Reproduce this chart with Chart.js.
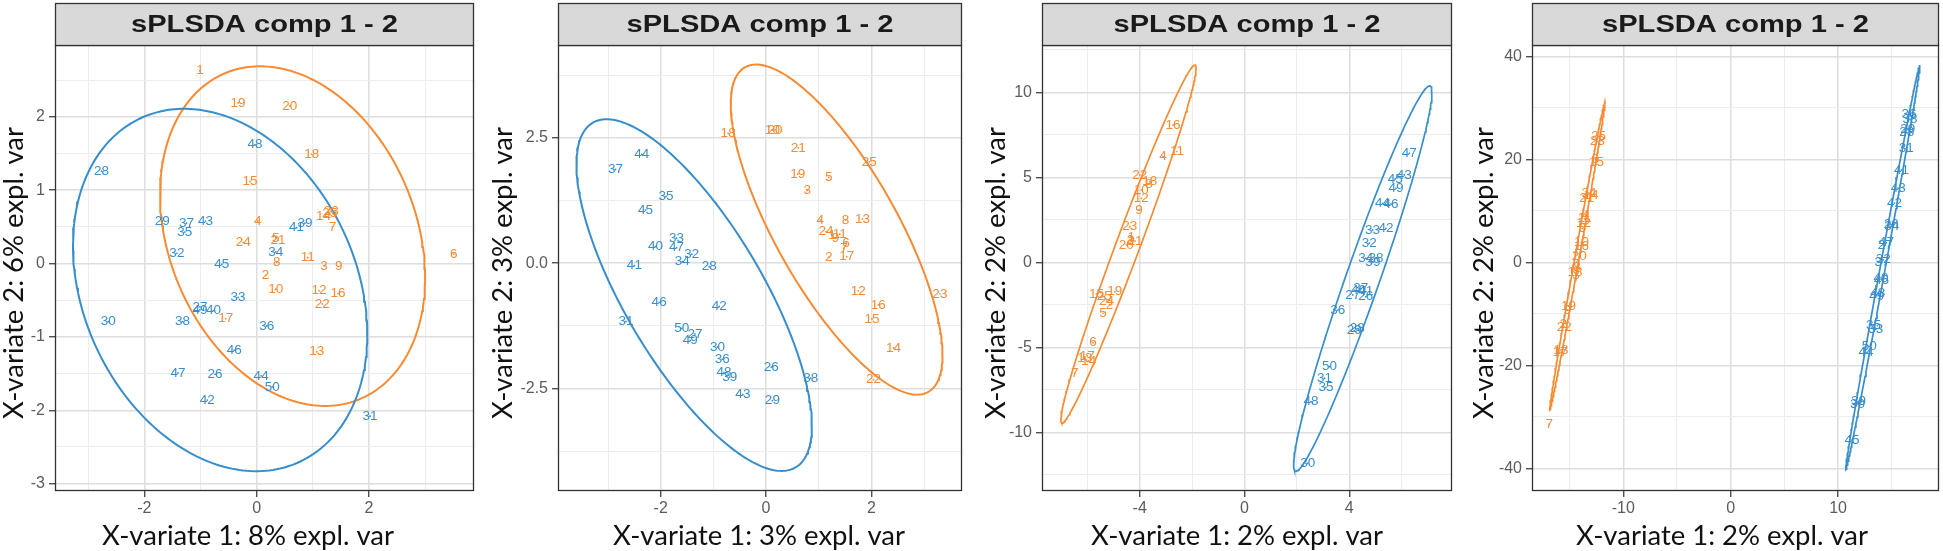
<!DOCTYPE html>
<html><head><meta charset="utf-8">
<script src="https://cdn.jsdelivr.net/npm/chart.js@4.4.1/dist/chart.umd.min.js"></script>
<style>
html,body{margin:0;padding:0;background:#fff;}
body{width:1943px;height:551px;overflow:hidden;position:relative;}
canvas{position:absolute;top:0;}
</style></head><body>
<canvas id="c1" width="478" height="551" style="left:0px"></canvas>
<canvas id="c2" width="488" height="551" style="left:478px"></canvas>
<canvas id="c3" width="490" height="551" style="left:966px"></canvas>
<canvas id="c4" width="487" height="551" style="left:1456px"></canvas>
<script>
// ---- sample names ----
const orangeNames = ['1','2','3','4','5','6','7','8','9','10','11','12','13','14','15','16','17','18','19','20','21','22','23','24','25'];
const blueNames = ['26','27','28','29','30','31','32','33','34','35','36','37','38','39','40','41','42','43','44','45','46','47','48','49','50'];

// ---- panel 1 ----
const p1OrangeX = [-1.01,0.16,1.20,0.02,0.34,3.51,1.35,0.36,1.46,0.34,0.91,1.11,1.07,1.19,-0.12,1.45,-0.55,0.98,-0.33,0.59,0.38,1.17,1.33,-0.24,1.30];
const p1OrangeY = [2.63,-0.16,-0.03,0.58,0.35,0.13,0.50,0.02,-0.04,-0.35,0.08,-0.37,-1.20,0.64,1.12,-0.41,-0.75,1.49,2.19,2.15,0.32,-0.55,0.72,0.29,0.69];
const p1BlueX = [-0.74,-1.01,-2.76,-1.68,-2.64,2.02,-1.42,-0.33,0.34,-1.28,0.18,-1.25,-1.32,0.86,-0.77,0.71,-0.88,-0.91,0.08,-0.62,-0.40,-1.40,-0.03,-1.01,0.28];
const p1BlueY = [-1.51,-0.59,1.26,0.58,-0.79,-2.08,0.14,-0.46,0.16,0.43,-0.85,0.55,-0.79,0.55,-0.64,0.49,-1.86,0.58,-1.53,-0.01,-1.18,-1.49,1.62,-0.63,-1.68];
// ellipse: centre x, centre y, x radius, y radius, sin(phase)
const p1BlueEllipse = [-0.65,-0.36,2.62,2.47,-0.245];
const p1OrangeEllipse = [0.64,0.375,2.36,2.315,-0.245];
const p1XRange = [-3.59,3.87], p1YRange = [-3.10,2.98];
const p1XGrid = [-3,-2,-1,0,1,2,3], p1XTicks = [-2,0,2], p1XTickLabels = ['-2','0','2'];
const p1YGrid = [-3,-2.5,-2,-1.5,-1,-0.5,0,0.5,1,1.5,2,2.5], p1YTicks = [-3,-2,-1,0,1,2], p1YTickLabels = ['-3','-2','-1','0','1','2'];

// ---- panel 2 ----
const p2OrangeX = [1.25,1.19,0.78,1.03,1.19,1.52,1.48,1.51,1.32,0.12,1.40,1.75,1.83,2.42,2.01,2.13,1.53,-0.72,0.60,0.17,0.61,2.04,3.30,1.14,1.96];
const p2OrangeY = [0.55,0.12,1.45,0.86,1.71,0.40,0.30,0.86,0.50,2.66,0.58,-0.55,0.88,-1.69,-1.11,-0.83,0.13,2.59,1.78,2.66,2.30,-2.32,-0.61,0.63,2.02];
const p2BlueX = [0.10,-1.35,-1.08,0.12,-0.92,-2.66,-1.41,-1.70,-1.59,-1.90,-0.83,-2.86,0.85,-0.69,-2.10,-2.50,-0.89,-0.44,-2.36,-2.29,-2.03,-1.70,-0.80,-1.44,-1.60];
const p2BlueY = [-2.07,-1.41,-0.07,-2.74,-1.67,-1.16,0.18,0.50,0.03,1.33,-1.91,1.87,-2.29,-2.27,0.33,-0.05,-0.86,-2.62,2.17,1.06,-0.78,0.31,-2.18,-1.54,-1.30];
const p2BlueEllipse = [-1.365,-0.635,2.235,3.505,-0.743];
const p2OrangeEllipse = [1.34,0.67,2.01,3.29,-0.76];
const p2XRange = [-3.95,3.72], p2YRange = [-4.54,4.35];
const p2XGrid = [-3,-2,-1,0,1,2,3], p2XTicks = [-2,0,2], p2XTickLabels = ['-2','0','2'];
const p2YGrid = [-3.75,-2.5,-1.25,0,1.25,2.5,3.75], p2YTicks = [-2.5,0,2.5], p2YTickLabels = ['-2.5','0.0','2.5'];

// ---- panel 3 ----
const p3OrangeX = [-4.32,-5.15,-4.35,-3.11,-5.40,-5.78,-6.48,-3.65,-4.03,-3.94,-2.58,-3.94,-6.10,-5.95,-5.65,-2.73,-6.00,-3.62,-4.95,-4.51,-4.18,-4.00,-4.38,-5.27,-5.35];
const p3OrangeY = [1.45,-2.50,1.30,6.21,-3.00,-4.73,-6.53,4.60,3.08,4.25,6.51,3.76,-5.65,-5.80,-1.86,8.08,-5.50,4.74,-1.73,1.02,1.25,5.14,2.09,-2.30,-2.00];
const p3BlueX = [4.63,4.13,4.30,4.19,2.41,3.05,4.76,4.89,4.63,3.11,3.56,4.44,5.02,4.90,4.35,4.63,5.40,6.10,5.27,5.75,5.59,6.29,2.54,5.78,3.24];
const p3BlueY = [-2.02,-1.92,-3.90,-4.02,-11.82,-6.82,1.12,1.90,0.24,-7.35,-2.81,-1.53,0.24,0.00,-1.65,-1.73,2.00,5.14,3.47,4.90,3.43,6.41,-8.20,4.35,-6.14];
const p3BlueEllipse = [4.515,-0.955,2.64,11.33,0.966];
const p3OrangeEllipse = [-4.43,1.07,2.58,10.53,0.982];
const p3XRange = [-7.73,7.92], p3YRange = [-13.45,12.78];
const p3XGrid = [-6,-4,-2,0,2,4,6], p3XTicks = [-4,0,4], p3XTickLabels = ['-4','0','4'];
const p3YGrid = [-12.5,-10,-7.5,-5,-2.5,0,2.5,5,7.5,10,12.5], p3YTicks = [-10,-5,0,5,10], p3YTickLabels = ['-10','-5','0','5','10'];

// ---- panel 4 ----
const p4OrangeX = [-14.2,-15.6,-14.4,-13.5,-13.8,-12.6,-16.9,-14.3,-15.2,-13.9,-13.6,-13.7,-15.8,-13.0,-12.5,-13.9,-15.9,-14.5,-15.1,-14.1,-13.4,-15.5,-12.4,-13.2,-12.3];
const p4OrangeY = [-0.5,-12.0,-2.6,9.2,6.6,20.0,-31.4,-1.0,-9.3,3.8,8.5,7.5,-17.0,13.0,19.5,3.2,-17.5,-2.0,-8.5,1.1,12.5,-12.6,23.5,13.5,24.5];
const p4BlueX = [14.95,14.4,16.4,16.5,11.8,16.35,14.2,13.5,15.0,13.3,16.6,14.1,16.7,11.9,14.0,15.9,15.25,15.6,12.6,11.3,14.05,14.5,13.7,13.6,12.9];
const p4BlueY = [7.3,3.4,25.2,25.9,-27.5,22.1,0.5,-13.0,7.0,-12.2,28.8,0.0,27.8,-27.0,-3.0,17.9,11.5,14.4,-17.5,-34.5,-3.4,3.8,-6.0,-6.5,-16.3];
const p4BlueEllipse = [14.165,-1.0,3.455,39.3,0.9975];
const p4OrangeEllipse = [-14.275,1.25,2.575,29.95,0.997];
const p4XRange = [-18.5,19.4], p4YRange = [-44.4,42.2];
const p4XGrid = [-15,-10,-5,0,5,10,15], p4XTicks = [-10,0,10], p4XTickLabels = ['-10','0','10'];
const p4YGrid = [-40,-30,-20,-10,0,10,20,30,40], p4YTicks = [-40,-20,0,20,40], p4YTickLabels = ['-40','-20','0','20','40'];

// ---- titles ----
const stripTitle = 'sPLSDA comp 1 - 2';
const xTitles = ['X-variate 1: 8% expl. var','X-variate 1: 3% expl. var','X-variate 1: 2% expl. var','X-variate 1: 2% expl. var'];
const yTitles = ['X-variate 2: 6% expl. var','X-variate 2: 3% expl. var','X-variate 2: 2% expl. var','X-variate 2: 2% expl. var'];

const BLUE = '#388ECC', ORANGE = '#F68B33';

function ellipsePoints(p){
  const [cx,cy,rx,ry,s] = p; const c = Math.sqrt(1-s*s); const out=[];
  for(let k=0;k<=240;k++){ const t=2*Math.PI*k/240; out.push({x:cx+rx*Math.cos(t), y:cy+ry*(Math.sin(t)*c+Math.cos(t)*s)}); }
  return out;
}
function pts(xs,ys){ return xs.map((x,i)=>({x:x,y:ys[i]})); }

const decorPlugin = {
  id:'decor',
  afterDatasetsDraw(chart){
    const ctx=chart.ctx, a=chart.chartArea;
    ctx.save();
    ctx.beginPath(); ctx.rect(a.left,a.top,a.right-a.left,a.bottom-a.top); ctx.clip();
    ctx.font='13.5px "Liberation Sans", Arial, sans-serif'; ctx.textAlign='center'; ctx.textBaseline='middle';
    chart.data.datasets.forEach((ds,i)=>{
      if(!ds.names) return;
      const meta=chart.getDatasetMeta(i);
      ctx.fillStyle=ds.textColor;
      meta.data.forEach((el,j)=>{ ctx.fillText(ds.names[j], el.x, el.y); });
    });
    ctx.restore();
  },
  afterDraw(chart){
    const ctx=chart.ctx, a=chart.chartArea, o=chart.options.plugins.decor;
    ctx.save();
    ctx.setTransform(1,0,0,1,0,0);
    // panel border
    ctx.strokeStyle='#333333'; ctx.lineWidth=1.3;
    ctx.strokeRect(a.left+0.5,a.top+0.5,a.right-a.left-1,a.bottom-a.top-1);
    // strip
    ctx.fillStyle='#D9D9D9'; ctx.fillRect(a.left,3,a.right-a.left,a.top-3);
    ctx.strokeRect(a.left+0.5,3.5,a.right-a.left-1,a.top-3);
    ctx.fillStyle='#1A1A1A';
    ctx.textBaseline='middle'; ctx.textAlign='left';
    ctx.font='bold 24px "Liberation Sans", Arial, sans-serif';
    const w=ctx.measureText(stripTitle).width; const sx=267/w;
    ctx.setTransform(sx,0,0,1,(a.left+a.right)/2-133.5,0);
    ctx.fillText(stripTitle,0,25);
    ctx.setTransform(1,0,0,1,0,0);
    ctx.textAlign='center';
    // axis titles
    ctx.fillStyle='#111111';
    ctx.font='100px Lato, "Liberation Sans", sans-serif';
    const fs = 100*292/ctx.measureText(o.xTitle).width;
    ctx.font=fs.toFixed(2)+'px Lato, "Liberation Sans", sans-serif';
    ctx.fillText(o.xTitle, o.xTitleX, 536);
    ctx.save(); ctx.translate(o.yTitleX, 273); ctx.rotate(-Math.PI/2); ctx.fillText(o.yTitle,0,0); ctx.restore();
    ctx.restore();
  }
};

function makePanel(id, cfg){
  const majX = new Set(cfg.xTicks), majY = new Set(cfg.yTicks);
  const gridCol = (set)=> (c)=> (c.tick && set.has(c.tick.value)) ? '#DEDEDE' : '#ECECEC';
  const gridW = (set)=> (c)=> (c.tick && set.has(c.tick.value)) ? 1.5 : 1;
  const tickCol = (set)=> (c)=> (c.tick && set.has(c.tick.value)) ? '#333333' : 'rgba(0,0,0,0)';
  new Chart(document.getElementById(id), {
    type:'scatter',
    data:{datasets:[
      {data:pts(cfg.bx,cfg.by), names:blueNames, textColor:BLUE, backgroundColor:BLUE, borderColor:BLUE, pointRadius:0.9, pointBorderWidth:0, showLine:false},
      {data:pts(cfg.ox,cfg.oy), names:orangeNames, textColor:ORANGE, backgroundColor:ORANGE, borderColor:ORANGE, pointRadius:0.9, pointBorderWidth:0, showLine:false},
      {data:ellipsePoints(cfg.be), showLine:true, borderColor:BLUE, borderWidth:cfg.lw, pointRadius:0, fill:false, tension:0},
      {data:ellipsePoints(cfg.oe), showLine:true, borderColor:ORANGE, borderWidth:cfg.lw, pointRadius:0, fill:false, tension:0}
    ]},
    options:{
      responsive:false, animation:false, devicePixelRatio:1,
      layout:{padding:{top:45,right:cfg.padR,left:0,bottom:0}},
      plugins:{legend:{display:false}, tooltip:{enabled:false},
        decor:{xTitle:cfg.xTitle, yTitle:cfg.yTitle, xTitleX:cfg.xTitleX, yTitleX:cfg.yTitleX}},
      scales:{
        x:{type:'linear', min:cfg.xr[0], max:cfg.xr[1],
          afterBuildTicks:(s)=>{ s.ticks = cfg.xGrid.map(v=>({value:v})); },
          afterFit:(s)=>{ s.height=60; },
          border:{display:false},
          grid:{color:gridCol(majX), lineWidth:gridW(majX), tickColor:tickCol(majX), tickLength:6, drawTicks:true, tickWidth:1.2},
          ticks:{autoSkip:false, maxRotation:0, padding:2, color:'#5C5C5C', font:{family:'"Liberation Sans", Arial, sans-serif', size:16},
            callback:(v)=>{ const k=cfg.xTicks.indexOf(v); return k>=0 ? cfg.xTickLabels[k] : ''; }}
        },
        y:{type:'linear', min:cfg.yr[0], max:cfg.yr[1],
          afterBuildTicks:(s)=>{ s.ticks = cfg.yGrid.map(v=>({value:v})); },
          afterFit:(s)=>{ s.width=cfg.yW; },
          border:{display:false},
          grid:{color:gridCol(majY), lineWidth:gridW(majY), tickColor:tickCol(majY), tickLength:6, drawTicks:true, tickWidth:1.2},
          ticks:{autoSkip:false, padding:4, color:'#5C5C5C', font:{family:'"Liberation Sans", Arial, sans-serif', size:16},
            callback:(v)=>{ const k=cfg.yTicks.indexOf(v); return k>=0 ? cfg.yTickLabels[k] : ''; }}
        }
      }
    },
    plugins:[decorPlugin]
  });
}

makePanel('c1',{bx:p1BlueX,by:p1BlueY,ox:p1OrangeX,oy:p1OrangeY,be:p1BlueEllipse,oe:p1OrangeEllipse,xr:p1XRange,yr:p1YRange,
  xGrid:p1XGrid,xTicks:p1XTicks,xTickLabels:p1XTickLabels,yGrid:p1YGrid,yTicks:p1YTicks,yTickLabels:p1YTickLabels,
  yW:55,padR:4,lw:2,xTitle:xTitles[0],yTitle:yTitles[0],xTitleX:248,yTitleX:14});
makePanel('c2',{bx:p2BlueX,by:p2BlueY,ox:p2OrangeX,oy:p2OrangeY,be:p2BlueEllipse,oe:p2OrangeEllipse,xr:p2XRange,yr:p2YRange,
  xGrid:p2XGrid,xTicks:p2XTicks,xTickLabels:p2XTickLabels,yGrid:p2YGrid,yTicks:p2YTicks,yTickLabels:p2YTickLabels,
  yW:80,padR:2,lw:2,xTitle:xTitles[1],yTitle:yTitles[1],xTitleX:281,yTitleX:25});
makePanel('c3',{bx:p3BlueX,by:p3BlueY,ox:p3OrangeX,oy:p3OrangeY,be:p3BlueEllipse,oe:p3OrangeEllipse,xr:p3XRange,yr:p3YRange,
  xGrid:p3XGrid,xTicks:p3XTicks,xTickLabels:p3XTickLabels,yGrid:p3YGrid,yTicks:p3YTicks,yTickLabels:p3YTickLabels,
  yW:76,padR:3,lw:1.7,xTitle:xTitles[2],yTitle:yTitles[2],xTitleX:271,yTitleX:30});
makePanel('c4',{bx:p4BlueX,by:p4BlueY,ox:p4OrangeX,oy:p4OrangeY,be:p4BlueEllipse,oe:p4OrangeEllipse,xr:p4XRange,yr:p4YRange,
  xGrid:p4XGrid,xTicks:p4XTicks,xTickLabels:p4XTickLabels,yGrid:p4YGrid,yTicks:p4YTicks,yTickLabels:p4YTickLabels,
  yW:76,padR:1,lw:1.7,xTitle:xTitles[3],yTitle:yTitles[3],xTitleX:266,yTitleX:28});
</script>
</body></html>
